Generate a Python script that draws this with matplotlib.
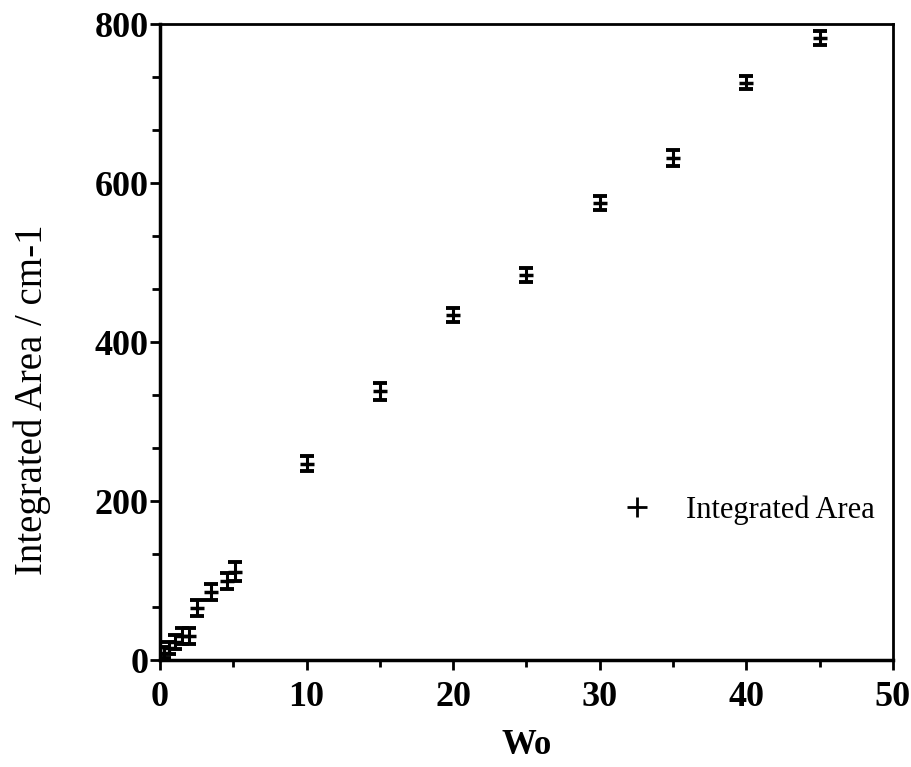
import matplotlib
matplotlib.use("Agg")
import matplotlib.pyplot as plt
from matplotlib.lines import Line2D
from matplotlib.ticker import MultipleLocator, AutoMinorLocator

# water loading Wo and band area with its uncertainty
wo = [0.3, 0.6, 1.0, 1.5, 2.0, 2.5, 3.5, 4.6, 5.1, 10, 15, 20, 25, 30, 35, 40, 45]
area = [9, 15, 23, 30, 30, 65, 86, 99, 111, 247, 338, 434, 484, 575, 631, 726, 782]
err = [7, 8, 9, 10, 10, 10, 10, 10, 12, 9, 11, 9, 9, 9, 10, 8, 9]

plt.rcParams["font.family"] = ["Liberation Serif", "DejaVu Serif"]

fig = plt.figure(figsize=(9.12, 7.67), dpi=100)
ax = fig.add_axes([0.1754, 0.1395, 0.8036, 0.8292])

ax.errorbar(wo, area, yerr=err, fmt="none", ecolor="black",
            elinewidth=2.2, capsize=5, capthick=2.8)
ax.plot(wo, area, linestyle="none", marker="_", markersize=10,
        markeredgewidth=2.5, color="black")

ax.set_xlim(0, 50)
ax.set_ylim(0, 800)
ax.xaxis.set_major_locator(MultipleLocator(10))
ax.xaxis.set_minor_locator(MultipleLocator(5))
ax.yaxis.set_major_locator(MultipleLocator(200))
ax.yaxis.set_minor_locator(AutoMinorLocator(3))

ax.tick_params(which="both", direction="out", top=False, right=False,
               width=2, colors="black")
ax.tick_params(axis="x", which="major", length=7, pad=8)
ax.tick_params(axis="x", which="minor", length=5)
ax.tick_params(axis="y", which="major", length=7, pad=1)
ax.tick_params(axis="y", which="minor", length=6)
for lab in ax.get_xticklabels() + ax.get_yticklabels():
    lab.set_fontsize(26)
    lab.set_fontweight("bold")

for side in ["left", "bottom"]:
    ax.spines[side].set_linewidth(2.5)
for side in ["top", "right"]:
    ax.spines[side].set_linewidth(2)

ax.set_xlabel("Wo", fontsize=25, fontweight="bold", labelpad=11)
ax.set_ylabel("Integrated Area / cm-1", fontsize=28)
ax.yaxis.set_label_coords(-0.148, 0.41)

handle = Line2D([], [], linestyle="none", marker="+", markersize=14,
                markeredgewidth=2, color="black")
ax.legend([handle], ["Integrated Area"], loc="center left",
          bbox_to_anchor=(0.588, 0.236), frameon=False, fontsize=22,
          handletextpad=0.6, borderpad=0)

fig.savefig("out.png", dpi=100)
